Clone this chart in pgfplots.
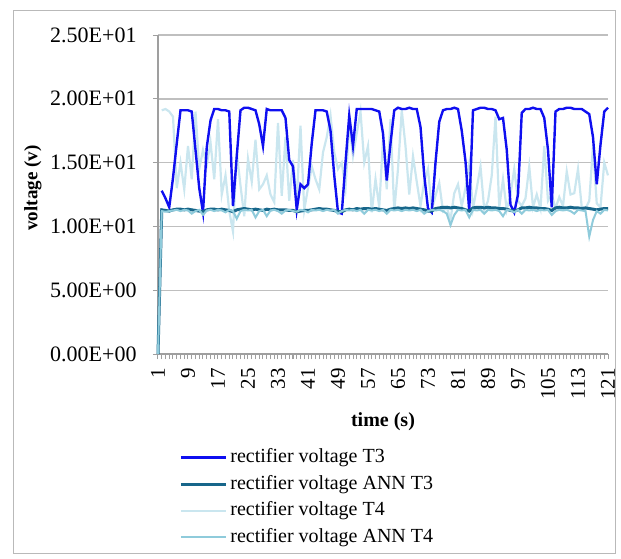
\documentclass[border=0pt]{standalone}
\usepackage{fontspec}
\setmainfont{Liberation Serif}
\usepackage{pgfplots}
\pgfplotsset{compat=1.18}
\definecolor{cT3}{HTML}{0F0FF0}
\definecolor{cANN3}{HTML}{17668A}
\definecolor{cT4}{HTML}{CAE6EF}
\definecolor{cANN4}{HTML}{8FCBDB}
\begin{document}
\begin{tikzpicture}
\useasboundingbox (-79pt,-102pt) rectangle (231.5pt,177pt);
\draw[gray!55, line width=0.5pt] (-72pt,-99.5pt) rectangle (228.5pt,172pt);
\begin{axis}[
  scale only axis, width=225pt, height=159.5pt,
  xmin=1, xmax=121, ymin=0, ymax=25,
  axis x line*=bottom, axis y line*=left,
  axis line style={gray!75, line width=0.6pt},
  ytick={0,5,...,25},
  yticklabels={0.00E+00,5.00E+00,1.00E+01,1.50E+01,2.00E+01,2.50E+01},
  xtick={1,9,...,121},
  xticklabels={1,9,17,25,33,41,49,57,65,73,81,89,97,105,113,121},
  minor xtick={1,...,121},
  ymajorgrids, major grid style={gray!50, line width=0.7pt},
  tick align=outside, major tick length=2.5pt, minor tick length=2.5pt,
  tick style={gray!75, line width=0.5pt},
  yticklabel style={font=\fontsize{11}{13}\selectfont, inner sep=0pt},
  yticklabel shift=8pt,
  xticklabel style={font=\fontsize{10.5}{12}\selectfont, inner sep=0pt, rotate=90, anchor=east},
  xticklabel shift=4.5pt,
  xlabel={time (s)}, ylabel={voltage (v)},
  xlabel style={at={(axis description cs:0.5,-0.212)}, anchor=center, font=\bfseries\fontsize{10}{12}\selectfont},
  ylabel style={at={(axis description cs:-0.2778,0.52)}, anchor=center, font=\bfseries\fontsize{9.5}{11}\selectfont},
  clip=false,
  legend style={draw=none, fill=none, at={(0,0)}, anchor=north west, xshift=10.5pt, yshift=-46.6pt,
    inner sep=0pt, font=\fontsize{10}{12}\selectfont,
    nodes={inner sep=0.5pt, text height=7pt, text depth=2pt}, row sep=3.3pt,
    /tikz/every odd column/.style={column sep=1pt}},
  legend cell align=left,
  legend image code/.code={\draw[#1] (0pt,0pt) -- (22.5pt,0pt);},
]
\addlegendimage{cT3, line width=1.2pt}
\addlegendentry{rectifier voltage T3}
\addlegendimage{cANN3, line width=1.5pt}
\addlegendentry{rectifier voltage ANN T3}
\addlegendimage{cT4, line width=1.1pt}
\addlegendentry{rectifier voltage T4}
\addlegendimage{cANN4, line width=1pt}
\addlegendentry{rectifier voltage ANN T4}

% T4
\addplot[forget plot, cT4, line width=1.1pt] coordinates {
(2,19.1)(3,19.2)(4,19.0)(5,18.6)(6,13.0)(7,15.0)(8,12.9)(9,16.3)(10,13.7)
(11,19.0)(12,14.5)(13,16.0)(14,14.8)(15,16.6)(16,13.7)(17,18.4)(18,12.5)(19,14.0)(20,11.2)
(21,9.6)(22,15.8)(23,13.2)(24,10.8)(25,15.3)(26,13.5)(27,16.8)(28,12.9)(29,13.3)(30,14.0)
(31,12.5)(32,11.9)(33,18.1)(34,12.4)(35,17.0)(36,12.0)(37,15.2)(38,12.0)(39,17.9)(40,11.3)
(41,13.0)(42,14.7)(43,13.7)(44,12.9)(45,15.8)(46,17.0)(47,18.7)(48,15.8)(49,14.5)(50,15.0)
(51,13.0)(52,18.1)(53,15.5)(54,17.3)(55,19.0)(56,15.0)(57,16.3)(58,11.1)(59,13.7)(60,11.5)
(61,16.8)(62,12.9)(63,18.4)(64,11.2)(65,14.5)(66,19.1)(67,16.3)(68,12.5)(69,15.5)(70,13.5)
(71,11.6)(72,13.5)(73,14.5)(74,11.3)(75,12.4)(76,13.4)(77,11.2)(78,11.5)(79,10.5)(80,12.6)
(81,13.3)(82,11.6)(83,13.0)(84,14.9)(85,11.4)(86,13.0)(87,14.7)(88,11.3)(89,12.0)(90,14.0)
(91,18.6)(92,11.5)(93,13.7)(94,11.3)(95,12.5)(96,14.5)(97,12.0)(98,11.6)(99,12.2)(100,14.7)
(101,11.5)(102,12.5)(103,11.4)(104,16.3)(105,12.0)(106,12.5)(107,11.4)(108,12.3)(109,11.6)(110,14.3)
(111,12.5)(112,12.6)(113,14.5)(114,11.5)(115,11.4)(116,12.0)(117,16.3)(118,11.8)(119,11.5)(120,15.0)
(121,14.0)};

% T3
\addplot[forget plot, cT3, line width=1.2pt] coordinates {
(2,12.8)(3,12.2)(4,11.5)(5,13.8)(6,16.5)(7,19.1)(8,19.1)(9,19.1)(10,19.0)
(11,16.0)(12,13.0)(13,11.1)(14,16.2)(15,18.3)(16,19.2)(17,19.2)(18,19.1)(19,19.1)(20,19.0)
(21,11.6)(22,15.5)(23,19.1)(24,19.3)(25,19.3)(26,19.2)(27,19.1)(28,18.0)(29,16.3)(30,19.2)
(31,19.1)(32,19.1)(33,19.1)(34,19.1)(35,18.5)(36,15.2)(37,14.7)(38,11.3)(39,13.3)(40,13.0)
(41,13.3)(42,16.5)(43,19.1)(44,19.1)(45,19.1)(46,19.0)(47,17.5)(48,14.0)(49,11.1)(50,11.0)
(51,15.0)(52,18.7)(53,16.3)(54,19.2)(55,19.2)(56,19.2)(57,19.2)(58,19.2)(59,19.1)(60,19.0)
(61,17.3)(62,13.6)(63,16.5)(64,19.1)(65,19.3)(66,19.2)(67,19.2)(68,19.3)(69,19.2)(70,19.2)
(71,17.8)(72,14.0)(73,11.4)(74,11.1)(75,15.0)(76,18.2)(77,19.1)(78,19.2)(79,19.2)(80,19.3)
(81,19.2)(82,17.5)(83,15.1)(84,11.2)(85,19.1)(86,19.2)(87,19.3)(88,19.3)(89,19.2)(90,19.2)
(91,19.1)(92,18.4)(93,18.5)(94,16.0)(95,11.7)(96,11.1)(97,12.5)(98,18.9)(99,19.2)(100,19.2)
(101,19.3)(102,19.2)(103,19.2)(104,18.5)(105,16.0)(106,11.5)(107,19.0)(108,19.2)(109,19.2)(110,19.3)
(111,19.3)(112,19.2)(113,19.2)(114,19.2)(115,19.0)(116,18.8)(117,17.0)(118,13.3)(119,16.4)(120,19.0)
(121,19.3)};

% ANN T3
\addplot[forget plot, cANN3, line width=1.5pt] coordinates {
(1,0)(2,11.3)(3,11.25)(4,11.2)(5,11.3)(6,11.35)(7,11.35)(8,11.3)(9,11.35)(10,11.3)
(11,11.25)(12,11.2)(13,11.15)(14,11.3)(15,11.35)(16,11.35)(17,11.3)(18,11.35)(19,11.3)(20,11.25)
(21,11.15)(22,11.3)(23,11.35)(24,11.4)(25,11.35)(26,11.3)(27,11.35)(28,11.3)(29,11.25)(30,11.35)
(31,11.3)(32,11.35)(33,11.3)(34,11.3)(35,11.3)(36,11.25)(37,11.25)(38,11.15)(39,11.2)(40,11.25)
(41,11.25)(42,11.3)(43,11.35)(44,11.4)(45,11.35)(46,11.35)(47,11.3)(48,11.25)(49,11.15)(50,11.15)
(51,11.3)(52,11.35)(53,11.3)(54,11.4)(55,11.35)(56,11.4)(57,11.4)(58,11.35)(59,11.4)(60,11.35)
(61,11.3)(62,11.25)(63,11.35)(64,11.4)(65,11.45)(66,11.4)(67,11.45)(68,11.4)(69,11.45)(70,11.4)
(71,11.35)(72,11.3)(73,11.2)(74,11.2)(75,11.4)(76,11.45)(77,11.5)(78,11.5)(79,11.45)(80,11.5)
(81,11.45)(82,11.4)(83,11.3)(84,11.2)(85,11.45)(86,11.5)(87,11.5)(88,11.45)(89,11.5)(90,11.45)
(91,11.45)(92,11.4)(93,11.4)(94,11.35)(95,11.25)(96,11.2)(97,11.3)(98,11.45)(99,11.45)(100,11.5)
(101,11.45)(102,11.45)(103,11.4)(104,11.4)(105,11.35)(106,11.25)(107,11.45)(108,11.5)(109,11.45)(110,11.45)
(111,11.5)(112,11.45)(113,11.45)(114,11.4)(115,11.45)(116,11.4)(117,11.35)(118,11.3)(119,11.35)(120,11.4)
(121,11.4)};

% ANN T4
\addplot[forget plot, cANN4, line width=1pt] coordinates {
(1,0)(2,11.2)(3,11.15)(4,11.2)(5,11.25)(6,11.3)(7,11.2)(8,11.3)(9,11.25)(10,11.0)
(11,11.2)(12,11.3)(13,10.9)(14,11.25)(15,11.3)(16,11.2)(17,11.3)(18,11.25)(19,11.1)(20,11.3)
(21,11.2)(22,10.6)(23,11.2)(24,11.3)(25,11.25)(26,11.3)(27,10.7)(28,11.2)(29,11.3)(30,10.8)
(31,11.25)(32,11.3)(33,11.2)(34,11.0)(35,11.25)(36,11.3)(37,11.2)(38,11.15)(39,11.3)(40,11.25)
(41,11.1)(42,11.3)(43,11.25)(44,11.3)(45,11.2)(46,11.3)(47,11.25)(48,11.3)(49,11.0)(50,11.2)
(51,11.3)(52,11.25)(53,11.3)(54,11.2)(55,11.3)(56,11.0)(57,11.3)(58,11.25)(59,11.3)(60,11.2)
(61,11.3)(62,11.0)(63,11.3)(64,11.25)(65,11.3)(66,11.2)(67,11.3)(68,11.25)(69,11.3)(70,11.2)
(71,11.3)(72,11.0)(73,11.2)(74,11.3)(75,11.25)(76,11.3)(77,11.2)(78,11.0)(79,10.1)(80,10.9)
(81,11.3)(82,11.25)(83,11.3)(84,10.7)(85,11.3)(86,11.25)(87,11.3)(88,11.0)(89,11.3)(90,11.25)
(91,11.3)(92,11.2)(93,10.8)(94,11.3)(95,11.25)(96,11.1)(97,11.3)(98,11.0)(99,11.3)(100,11.25)
(101,11.3)(102,11.2)(103,11.3)(104,11.25)(105,11.3)(106,10.9)(107,11.2)(108,11.3)(109,11.25)(110,11.3)
(111,11.2)(112,11.0)(113,11.3)(114,11.25)(115,11.2)(116,9.2)(117,10.5)(118,11.2)(119,11.0)(120,11.3)
(121,11.25)};
\end{axis}
\end{tikzpicture}
\end{document}
